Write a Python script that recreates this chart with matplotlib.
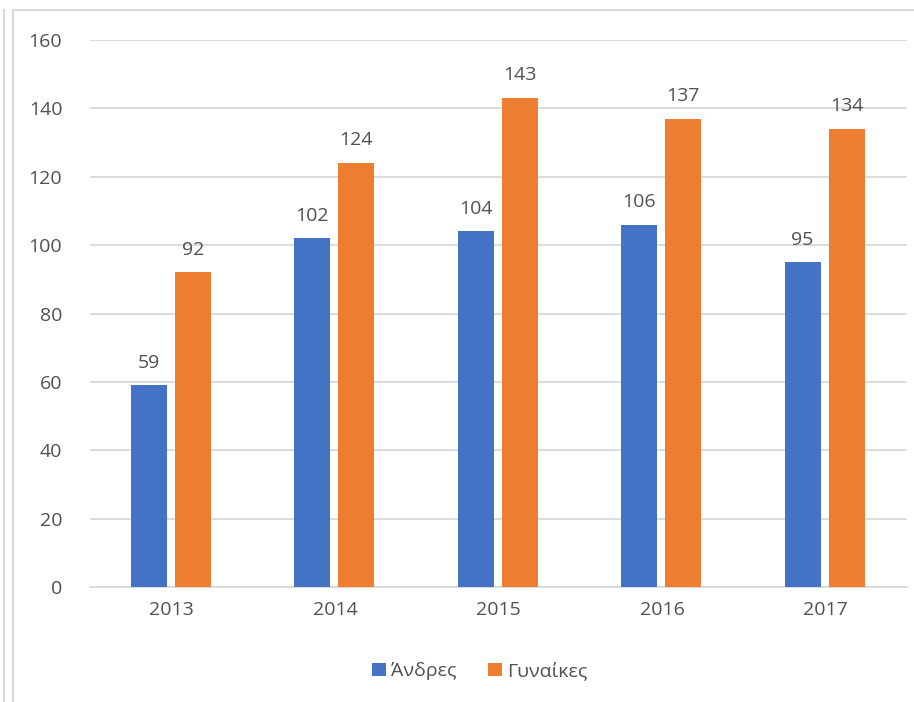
import matplotlib
matplotlib.use('Agg')
import matplotlib.pyplot as plt
import numpy as np
from matplotlib.lines import Line2D

plt.rcParams['font.family'] = ['Open Sans', 'DejaVu Sans']

years = ['2013', '2014', '2015', '2016', '2017']
men = [59, 102, 104, 106, 95]
women = [92, 124, 143, 137, 134]
series_names = ['Άνδρες', 'Γυναίκες']

blue = '#4472C4'
orange = '#ED7D31'
text_col = '#505050'
grid_col = '#D9D9D9'

fig = plt.figure(figsize=(9.14, 7.02), dpi=100)
ax = fig.add_axes([0.0985, 0.1638, 0.894, 0.7792])

x = np.arange(len(years))
w = 0.22
b1 = ax.bar(x - 0.14, men, w, color=blue, label=series_names[0], zorder=3)
b2 = ax.bar(x + 0.13, women, w, color=orange, label=series_names[1], zorder=3)

for bars in (b1, b2):
    for r in bars:
        ax.text(r.get_x() + r.get_width() / 2, r.get_height() + 4, str(int(r.get_height())),
                ha='center', va='bottom', fontsize=14, color=text_col)

ax.set_xlim(-0.5, len(years) - 0.5)
ax.set_ylim(0, 160)
ax.set_yticks(range(0, 161, 20))
ax.set_xticks(x)
ax.set_xticklabels(years)
ax.tick_params(axis='both', length=0, labelsize=14, labelcolor=text_col)
ax.tick_params(axis='y', pad=20)
ax.tick_params(axis='x', pad=10)
ax.yaxis.grid(True, color=grid_col, linewidth=1.3, zorder=0)
for s in ['top', 'right', 'left']:
    ax.spines[s].set_visible(False)
ax.spines['bottom'].set_color(grid_col)
ax.spines['bottom'].set_linewidth(1.3)

leg = fig.legend(handles=[b1, b2], loc='center', bbox_to_anchor=(0.525, 0.044), ncol=2,
                 frameon=False, fontsize=14, handlelength=0.7, handleheight=0.7,
                 handletextpad=0.3, columnspacing=1.6)
for t in leg.get_texts():
    t.set_color(text_col)

# chart frame edges
fig.add_artist(Line2D([13 / 914, 13 / 914], [0, 1 - 10 / 702], color='#D9D9D9', lw=1.5, transform=fig.transFigure))
fig.add_artist(Line2D([13 / 914, 1], [1 - 10 / 702, 1 - 10 / 702], color='#D9D9D9', lw=1.5, transform=fig.transFigure))
fig.add_artist(Line2D([4 / 914, 4 / 914], [0, 1 - 10 / 702], color='#D9D9D9', lw=1.5, transform=fig.transFigure))

fig.savefig('out.png', dpi=100)
